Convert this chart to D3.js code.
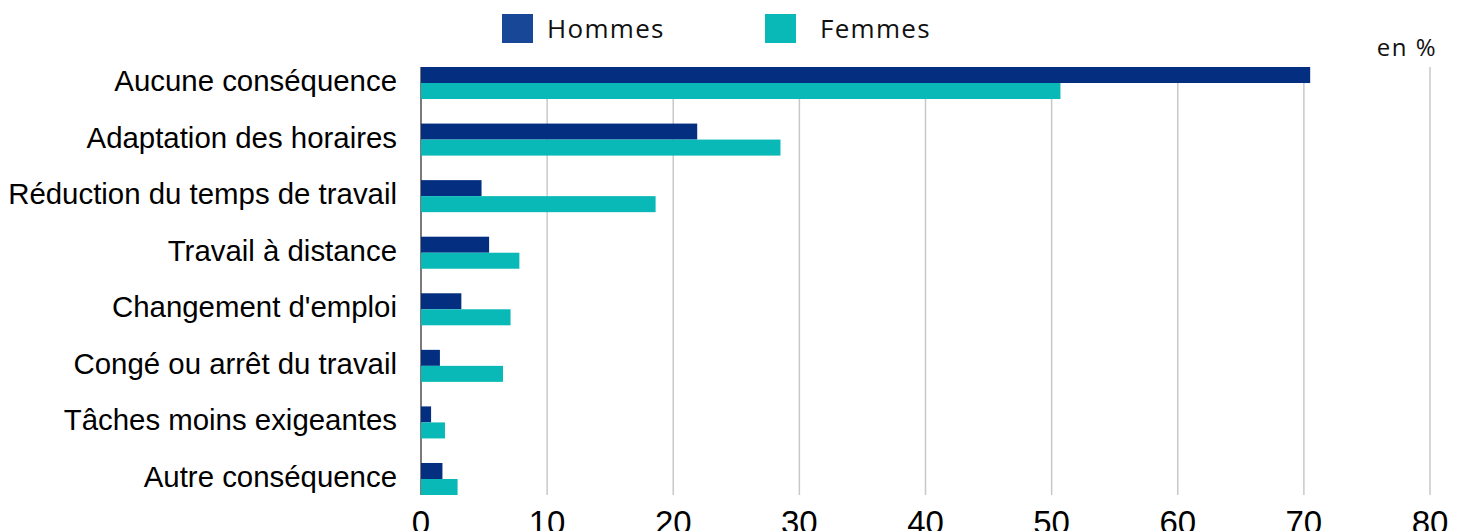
<!DOCTYPE html>
<html>
<head>
<meta charset="utf-8">
<script src="https://cdn.jsdelivr.net/npm/d3@7"></script>
<style>
  body { margin: 0; background: #fff; }
  svg { display: block; }
</style>
</head>
<body>
<svg id="chart" width="1460" height="531"></svg>
<script>
// categories, top to bottom
var categories = ["Aucune conséquence", "Adaptation des horaires", "Réduction du temps de travail",
  "Travail à distance", "Changement d'emploi", "Congé ou arrêt du travail",
  "Tâches moins exigeantes", "Autre conséquence"];
var hommes = [70.5, 21.9, 4.8, 5.4, 3.2, 1.5, 0.8, 1.7];
var femmes = [50.7, 28.5, 18.6, 7.8, 7.1, 6.5, 1.9, 2.9];
var seriesNames = ["Hommes", "Femmes"];
var xTicks = [0, 10, 20, 30, 40, 50, 60, 70, 80];

var barColours = ["#042f80", "#08b9b7"];
var legendColours = ["#174796", "#08b9b7"];

var svg = d3.select("#chart");
var margin = {left: 421, right: 30, top: 67, bottom: 36};
var W = 1460, H = 531;

var x = d3.scaleLinear().domain([0, 80]).range([margin.left, 1430]);
var y = d3.scaleBand().domain(categories).range([margin.top, H - margin.bottom])
    .paddingInner(0.434).paddingOuter(0);
var sub = d3.scaleBand().domain(seriesNames).range([0, y.bandwidth()]);

// gridlines
svg.append("g").selectAll("line")
  .data(xTicks.filter(function(d){ return d > 0; }))
  .enter().append("line")
    .attr("x1", function(d){ return x(d); })
    .attr("x2", function(d){ return x(d); })
    .attr("y1", margin.top)
    .attr("y2", H - margin.bottom)
    .attr("stroke", "#c8c8c8")
    .attr("stroke-width", 1.5);

// left axis line
svg.append("line")
  .attr("x1", x(0)).attr("x2", x(0))
  .attr("y1", margin.top).attr("y2", H - margin.bottom)
  .attr("stroke", "#7a7a7a").attr("stroke-width", 2);

// bars
var rows = categories.map(function(c, i){ return {cat: c, vals: [hommes[i], femmes[i]]}; });
var g = svg.append("g").selectAll("g").data(rows).enter().append("g")
  .attr("transform", function(d){ return "translate(0," + y(d.cat) + ")"; });

g.selectAll("rect")
  .data(function(d){ return d.vals.map(function(v, j){ return {name: seriesNames[j], v: v, j: j}; }); })
  .enter().append("rect")
    .attr("x", x(0))
    .attr("y", function(d){ return sub(d.name); })
    .attr("width", function(d){ return x(d.v) - x(0); })
    .attr("height", sub.bandwidth())
    .attr("fill", function(d){ return barColours[d.j]; });

// category labels
svg.append("g").selectAll("text").data(categories).enter().append("text")
  .attr("x", 397)
  .attr("y", function(d){ return y(d) + y.bandwidth() / 2 + 8; })
  .attr("text-anchor", "end")
  .style("font-family", "'Liberation Sans', Arial, sans-serif")
  .style("font-size", "29.4px")
  .attr("fill", "#000")
  .text(function(d){ return d; });

// x tick labels
svg.append("g").selectAll("text").data(xTicks).enter().append("text")
  .attr("x", function(d){ return x(d); })
  .attr("y", 534)
  .attr("text-anchor", "middle")
  .style("font-family", "'Liberation Sans', Arial, sans-serif")
  .style("font-size", "33px")
  .attr("fill", "#000")
  .text(function(d){ return d; });

// legend
var legX = [502, 765];
var leg = svg.append("g").selectAll("g").data(seriesNames).enter().append("g")
  .attr("transform", function(d, i){ return "translate(" + legX[i] + ",14)"; });
leg.append("rect").attr("width", 31).attr("height", 29)
  .attr("fill", function(d, i){ return legendColours[i]; });
leg.append("text")
  .attr("x", function(d, i){ return i == 0 ? 45 : 55; })
  .attr("y", 24)
  .style("font-family", "'Open Sans', sans-serif")
  .style("font-size", "26px")
  .style("letter-spacing", "1.3px")
  .attr("fill", "#111")
  .text(function(d){ return d; });

// unit
svg.append("text")
  .attr("x", 1437).attr("y", 56)
  .attr("text-anchor", "end")
  .style("font-family", "'Open Sans', sans-serif")
  .style("font-size", "24px")
  .style("letter-spacing", "1.5px")
  .attr("fill", "#111")
  .text("en %");
</script>
</body>
</html>
